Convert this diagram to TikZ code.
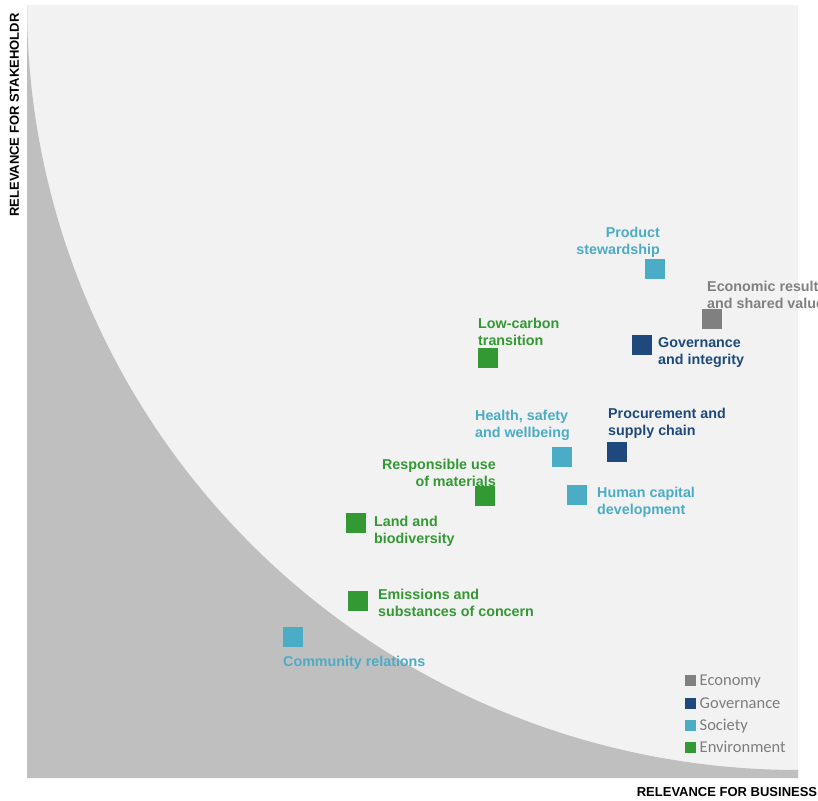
\documentclass[tikz,border=0pt]{standalone}
\usepackage{fontspec}
\setmainfont{Liberation Sans}
\newfontfamily\legendfont{Carlito}
\definecolor{envgreen}{RGB}{51,153,51}
\definecolor{socteal}{RGB}{75,172,198}
\definecolor{govblue}{RGB}{31,73,125}
\definecolor{ecogray}{RGB}{128,128,128}
\definecolor{bglight}{RGB}{242,242,242}
\definecolor{bgdark}{RGB}{191,191,191}
\definecolor{legtext}{RGB}{125,125,125}
\tikzset{
  sq/.style={minimum size=20pt, inner sep=0pt, outer sep=0pt, fill=#1},
  lsq/.style={minimum size=11pt, inner sep=0pt, outer sep=0pt, fill=#1},
  lbl/.style={inner sep=0pt, font=\fontsize{14.3}{17}\selectfont\bfseries, text=#1},
  legtxt/.style={inner sep=0pt, anchor=base west, font=\legendfont\fontsize{16.5}{18}\selectfont, text=legtext},
  axis/.style={inner sep=0pt, font=\fontsize{13}{15}\selectfont\bfseries, text=black}
}
\begin{document}
\begin{tikzpicture}[x=1pt,y=-1pt]
\useasboundingbox (0,0) rectangle (818,800);
\clip (0,0) rectangle (818,800);
\fill[white] (0,0) rectangle (818,800);
\fill[bglight] (27,5) rectangle (798,778);
\fill[bgdark] plot[domain=0:90,samples=90,smooth] ({798-771*cos(\x)},{5+765*sin(\x)}) -- (798,778) -- (27,778) -- cycle;

% squares
\node[sq=socteal]  (prod) at (655,269) {};
\node[sq=ecogray]  (econ) at (712,319) {};
\node[sq=govblue]  (gov)  at (642,345) {};
\node[sq=envgreen] (lowc) at (488,358) {};
\node[sq=socteal]  (hsw)  at (562,457) {};
\node[sq=govblue]  (proc) at (617,452) {};
\node[sq=envgreen] (resp) at (485,496) {};
\node[sq=socteal]  (hum)  at (577,495) {};
\node[sq=envgreen] (land) at (356,523) {};
\node[sq=envgreen] (emis) at (358,601) {};
\node[sq=socteal]  (comm) at (293,637) {};

% labels
\node[lbl=socteal, align=right, anchor=east] (prodl) at (660,242) {Product\\stewardship};
\node[lbl=ecogray, align=left, anchor=west] (econl) at (707,295) {Economic results\\and shared value};
\node[lbl=govblue, align=left, anchor=west] (govl) at (658,352.5) {Governance\\and integrity};
\node[lbl=envgreen, align=left, anchor=west] (lowcl) at (478,331.5) {Low-carbon\\transition};
\node[lbl=socteal, align=left, anchor=west] (hswl) at (475,425.5) {Health, safety\\and wellbeing};
\node[lbl=govblue, align=left, anchor=west] (procl) at (608,423.5) {Procurement and\\supply chain};
\node[lbl=envgreen, align=right, anchor=east] (respl) at (496,472.5) {Responsible use\\of materials};
\node[lbl=socteal, align=left, anchor=west] (huml) at (597,502.5) {Human capital\\development};
\node[lbl=envgreen, align=left, anchor=west] (landl) at (374,531.5) {Land and\\biodiversity};
\node[lbl=envgreen, align=left, anchor=west] (emisl) at (378,602.5) {Emissions and\\substances of concern};
\node[lbl=socteal, anchor=west] (comml) at (283,663) {Community relations};

% legend
\node[lsq=ecogray]  (leg1) at (690.5,680) {};
\node[lsq=govblue]  (leg2) at (690.5,703) {};
\node[lsq=socteal]  (leg3) at (690.5,725) {};
\node[lsq=envgreen] (leg4) at (690.5,747) {};
\node[legtxt] (leg1t) at (699.5,685.5) {Economy};
\node[legtxt] (leg2t) at (699.5,708.5) {Governance};
\node[legtxt] (leg3t) at (699.5,730.5) {Society};
\node[legtxt] (leg4t) at (699.5,752.5) {Environment};

% axes labels
\node[axis, rotate=90] (ylab) at (14.5,115) {RELEVANCE FOR STAKEHOLDR};
\node[axis] (xlab) at (727,792) {RELEVANCE FOR BUSINESS};
\end{tikzpicture}
\end{document}
